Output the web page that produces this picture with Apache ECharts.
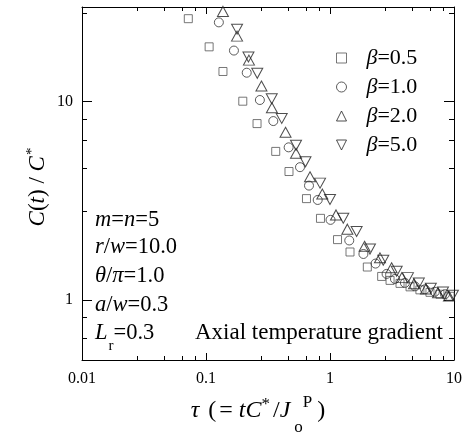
<!DOCTYPE html>
<html>
<head>
<meta charset="utf-8">
<script src="https://cdn.jsdelivr.net/npm/echarts@6/dist/echarts.min.js"></script>
<style>
html,body{margin:0;padding:0;background:#fff;}
#chart{width:466px;height:433px;}
</style>
</head>
<body>
<div id="chart"></div>
<script>
// ---- data ----
const seriesNames = ['β=0.5', 'β=1.0', 'β=2.0', 'β=5.0'];

const tau05 = [0.072,0.106,0.137,0.198,0.258,0.365,0.467,0.646,0.838,1.15,1.45,2.0,2.61,3.05,3.67,4.42,5.31,6.40,7.7,9.3];
const c05   = [26.2,18.9,14.2,10.06,7.76,5.62,4.45,3.25,2.585,2.02,1.75,1.47,1.318,1.259,1.216,1.168,1.128,1.096,1.072,1.047];

const tau10 = [0.127,0.168,0.213,0.272,0.349,0.464,0.573,0.677,0.796,1.01,1.43,1.86,2.33,2.86,3.34,4.02,4.84,5.83,7.0,8.45];
const c10   = [25.1,18.1,14.0,10.2,7.99,5.89,4.68,3.78,3.20,2.54,2.0,1.71,1.53,1.357,1.28,1.223,1.175,1.135,1.103,1.072];

const tau20 = [0.137,0.178,0.222,0.280,0.340,0.438,0.532,0.690,0.867,1.118,1.38,1.90,2.53,3.14,3.8,4.76,5.94,7.43,9.1];
const c20   = [28.5,21.4,16.2,12.0,9.33,7.02,5.50,4.19,3.43,2.69,2.28,1.87,1.635,1.457,1.30,1.21,1.14,1.09,1.05];

const tau50 = [0.137,0.178,0.220,0.259,0.339,0.408,0.532,0.634,0.831,1.0,1.28,1.64,2.10,2.69,3.45,4.25,5.2,6.5,8.15,9.8];
const c50   = [30.5,23.2,16.8,13.9,10.35,8.24,6.03,4.98,3.89,3.22,2.59,2.22,1.81,1.59,1.40,1.30,1.22,1.15,1.10,1.06];

// ---- tick labels ----
const xMajor = [0.01, 0.1, 1, 10];
const xTickLabels = ['0.01', '0.1', '1', '10'];
const yMajor = [1, 10];
const yTickLabels = ['1', '10'];

const FONT = 'Liberation Serif';

function pairs(xs, ys) { return xs.map((x, i) => [x, ys[i]]); }
function labelFor(v, majors, labels) {
  let best = 0, bd = Infinity;
  majors.forEach((m, i) => { const d = Math.abs(Math.log10(v) - Math.log10(m)); if (d < bd) { bd = d; best = i; } });
  return bd < 0.01 ? labels[best] : '';
}

const chart = echarts.init(document.getElementById('chart'), null, {renderer: 'canvas'});

function xAxisCfg(pos, withLabels) {
  return {type: 'log', logBase: 10, min: 0.01, max: 10, gridIndex: 0, position: pos,
    splitLine: {show: false}, minorSplitLine: {show: false},
    axisLine: {show: true, lineStyle: {color: '#000', width: 1}},
    axisTick: {show: true, inside: true, length: 7, lineStyle: {color: '#000', width: 1}},
    minorTick: {show: true, length: 4, lineStyle: {color: '#000', width: 1}},
    axisLabel: withLabels ? {show: true, margin: 11, color: '#000', fontFamily: FONT, fontSize: 16,
      formatter: v => labelFor(v, xMajor, xTickLabels)} : {show: false}};
}
function yAxisCfg(pos, withLabels) {
  return {type: 'log', logBase: 10, min: 0.5, max: 30, gridIndex: 0, position: pos,
    splitLine: {show: false}, minorSplitLine: {show: false},
    axisLine: {show: true, lineStyle: {color: '#000', width: 1}},
    axisTick: {show: true, inside: true, length: 10, lineStyle: {color: '#000', width: 1}},
    minorTick: {show: true, length: 5, lineStyle: {color: '#000', width: 1}},
    axisLabel: withLabels ? {show: true, margin: 9, color: '#000', fontFamily: FONT, fontSize: 16,
      formatter: v => labelFor(v, yMajor, yTickLabels)} : {show: false}};
}

const option = {
  animation: false,
  grid: {left: 82, top: 7, right: 12, bottom: 73},
  xAxis: [xAxisCfg('bottom', true), xAxisCfg('top', false)],
  yAxis: [yAxisCfg('left', true), yAxisCfg('right', false)],
  legend: {
    show: true,
    orient: 'vertical',
    left: 336,
    top: 47,
    padding: 0,
    itemWidth: 10,
    itemHeight: 10,
    itemGap: 7,
    selectedMode: false,
    data: [
      {name: seriesNames[0]},
      {name: seriesNames[1]},
      {name: seriesNames[2]},
      {name: seriesNames[3], icon: 'path://M0,0L10,0L5,10Z'}
    ],
    itemStyle: {borderWidth: 1, borderColor: 'inherit'},
    formatter: name => '{b|β}{t|' + name.slice(1) + '}',
    textStyle: {
      color: '#000', fontFamily: FONT, fontSize: 22, lineHeight: 22,
      rich: {
        b: {fontFamily: FONT, fontStyle: 'italic', fontSize: 22, color: '#000', lineHeight: 22, padding: [0, 0, 0, 15]},
        t: {fontFamily: FONT, fontSize: 22, color: '#000', lineHeight: 22}
      }
    }
  },
  series: [
    {name: seriesNames[0], type: 'scatter', symbol: 'rect', symbolSize: 8, data: pairs(tau05, c05),
     itemStyle: {color: 'rgba(255,255,255,0)', borderColor: '#555', borderWidth: 1}, silent: true},
    {name: seriesNames[1], type: 'scatter', symbol: 'circle', symbolSize: 9, data: pairs(tau10, c10),
     itemStyle: {color: 'rgba(255,255,255,0)', borderColor: '#333', borderWidth: 1}, silent: true},
    {name: seriesNames[2], type: 'scatter', symbol: 'triangle', symbolSize: [11, 10], data: pairs(tau20, c20),
     itemStyle: {color: 'rgba(255,255,255,0)', borderColor: '#222', borderWidth: 1}, silent: true},
    {name: seriesNames[3], type: 'scatter', symbol: 'triangle', symbolRotate: 180, symbolSize: [11, 10], data: pairs(tau50, c50),
     itemStyle: {color: 'rgba(255,255,255,0)', borderColor: '#222', borderWidth: 1}, silent: true}
  ],
  graphic: (function () {
    const FS = 22.5;
    const base = {fontFamily: FONT, fontSize: FS, fill: '#000', align: 'left', verticalAlign: 'middle'};
    const rich = {
      i: {fontFamily: FONT, fontStyle: 'italic', fontSize: FS, lineHeight: 26},
      n: {fontFamily: FONT, fontSize: FS, lineHeight: 26}
    };
    const ann = [
      ['{i|m}{n|=}{i|n}{n|=5}', 220],
      ['{i|r}{n|/}{i|w}{n|=10.0}', 247],
      ['{i|θ}{n|/}{i|π}{n|=1.0}', 276],
      ['{i|a}{n|/}{i|w}{n|=0.3}', 305]
    ];
    const els = ann.map(a => ({
      type: 'text', x: 95, y: a[1], silent: true,
      style: Object.assign({}, base, {text: a[0], rich: rich})
    }));
    // L_r = 0.3
    els.push({
      type: 'text', x: 95, y: 333, silent: true,
      style: Object.assign({}, base, {
        text: '{i|L}{s|r}{n|=0.3}',
        rich: {
          i: {fontFamily: FONT, fontStyle: 'italic', fontSize: FS, lineHeight: 42},
          n: {fontFamily: FONT, fontSize: FS, lineHeight: 42},
          s: {fontFamily: FONT, fontSize: 15, lineHeight: 16, verticalAlign: 'bottom', padding: [0, 0, 0, 1]}
        }
      })
    });
    els.push({
      type: 'text', x: 195, y: 333, silent: true,
      style: Object.assign({}, base, {text: 'Axial temperature gradient', fontSize: 23})
    });
    // x axis title
    els.push({
      type: 'text', x: 258, y: 411, silent: true,
      style: Object.assign({}, base, {
        text: '{i|τ}{n| (}{n|= }{i|t}{i|C}{p|*}{n|/}{i|J}{s|o}{q|P}{r|)}',
        align: 'center', fontSize: 24,
        rich: {
          i: {fontFamily: FONT, fontStyle: 'italic', fontSize: 24, lineHeight: 50},
          n: {fontFamily: FONT, fontSize: 24, lineHeight: 50, padding: [0, 0, 0, 3]},
          r: {fontFamily: FONT, fontSize: 24, lineHeight: 50, padding: [0, 0, 0, 5]},
          s: {fontFamily: FONT, fontSize: 17, lineHeight: 18, verticalAlign: 'bottom', padding: [0, 0, 0, 4]},
          p: {fontFamily: FONT, fontSize: 17, lineHeight: 18, verticalAlign: 'top', padding: [10, 0, 0, 0]},
          q: {fontFamily: FONT, fontSize: 17, lineHeight: 18, verticalAlign: 'top', padding: [8, 0, 0, 0]}
        }
      })
    });
    // y axis title
    els.push({
      type: 'text', x: 38, y: 187, rotation: Math.PI / 2, silent: true,
      style: Object.assign({}, base, {
        text: '{i|C}{n|(}{i|t}{n|) / }{i|C}{p|*}',
        align: 'center', fontSize: 23,
        rich: {
          i: {fontFamily: FONT, fontStyle: 'italic', fontSize: 23, lineHeight: 40},
          n: {fontFamily: FONT, fontSize: 23, lineHeight: 40},
          p: {fontFamily: FONT, fontSize: 15, lineHeight: 16, verticalAlign: 'top', padding: [7, 0, 0, 1]}
        }
      })
    });
    return els;
  })()
};

chart.setOption(option);
</script>
</body>
</html>
